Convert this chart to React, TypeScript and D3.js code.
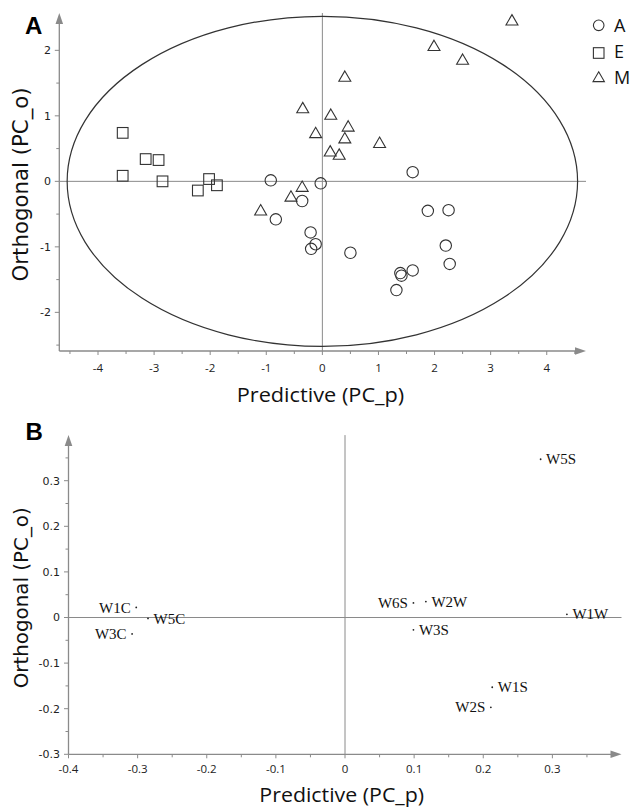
import React from "react";
import * as d3 from "d3";

// ---- Panel A data (OPLS-DA scores) ----
const groupA_x = [-0.92, -0.83, -0.36, -0.21, -0.2, -0.12, -0.03, 1.61, 0.5, 1.88, 2.25, 2.2, 2.27, 1.61, 1.39, 1.41, 1.32];
const groupA_y = [0.015, -0.58, -0.3, -0.78, -1.03, -0.96, -0.03, 0.14, -1.09, -0.45, -0.44, -0.98, -1.26, -1.36, -1.4, -1.44, -1.66];

const groupE_x = [-3.56, -3.56, -3.15, -2.92, -2.85, -2.22, -2.02, -1.88];
const groupE_y = [0.74, 0.085, 0.34, 0.325, 0.0, -0.14, 0.035, -0.06];

const groupM_x = [3.38, 1.99, 2.5, 0.4, -0.35, 0.15, -0.12, 0.46, 0.4, 1.02, 0.14, 0.3, -0.36, -0.56, -1.1];
const groupM_y = [2.44, 2.05, 1.84, 1.58, 1.1, 1.0, 0.72, 0.82, 0.64, 0.57, 0.44, 0.39, -0.1, -0.25, -0.46];

const legendLabels = ["A", "E", "M"];
const ellipseRadii = [4.55, 2.52];

const aXTicks = [-4, -3, -2, -1, 0, 1, 2, 3, 4];
const aYTicks = [-2, -1, 0, 1, 2];
const aXMinor = [-4.5, -3.5, -2.5, -1.5, -0.5, 0.5, 1.5, 2.5, 3.5, 4.5];
const aYMinor = [-2.5, -1.5, -0.5, 0.5, 1.5];

// ---- Panel B data (loadings) ----
const bLabels = ["W5S", "W6S", "W2W", "W1W", "W3S", "W1S", "W2S", "W1C", "W5C", "W3C"];
const bX = [0.283, 0.099, 0.117, 0.321, 0.099, 0.213, 0.211, -0.302, -0.285, -0.308];
const bY = [0.347, 0.032, 0.035, 0.007, -0.027, -0.153, -0.197, 0.022, -0.002, -0.036];
const bSide = ["r", "l", "r", "r", "r", "r", "l", "l", "r", "l"];

const bXTicks = [-0.4, -0.3, -0.2, -0.1, 0, 0.1, 0.2, 0.3];
const bYTicks = [-0.3, -0.2, -0.1, 0, 0.1, 0.2, 0.3];
const bXMinor = [-0.35, -0.25, -0.15, -0.05, 0.05, 0.15, 0.25, 0.35];
const bYMinor = [-0.25, -0.15, -0.05, 0.05, 0.15, 0.25, 0.35];

const AXIS = "#8a8a8a";
const MARK = "#333";
const SANS = "'Open Sans', 'Noto Sans', sans-serif";
const DEJA = "'DejaVu Sans', sans-serif";

function fmt(v: number) {
  if (v === 0) return "0";
  return String(v).replace(/^(-?)0\./, "$10.");
}

export default function App() {
  // Panel A scales
  const xA = d3.scaleLinear().domain([-4.69, 4.7]).range([59.3, 586]);
  const yA = d3.scaleLinear().domain([-2.59, 2.57]).range([351, 13]);
  // Panel B scales
  const xB = d3.scaleLinear().domain([-0.4, 0.4]).range([68.5, 621.5]);
  const yB = d3.scaleLinear().domain([-0.3, 0.4]).range([754.3, 435.1]);

  const tri = d3.symbol(d3.symbolTriangle, 62)()!;
  const triLegend = d3.symbol(d3.symbolTriangle, 56)()!;
  const sq = 10.7;

  const [ax0, ax1] = xA.domain();
  const [ay0, ay1] = yA.domain();
  const [bx0, bx1] = xB.domain();
  const [by0, by1] = yB.domain();

  const arrowRight = (x: number, y: number) => `M${x},${y}L${x - 11},${y - 3.8}L${x - 11},${y + 3.8}Z`;
  const arrowUp = (x: number, y: number) => `M${x},${y}L${x - 3.8},${y + 11}L${x + 3.8},${y + 11}Z`;

  return (
    <svg width={632} height={808} style={{ position: "absolute", left: 0, top: 0, background: "#fff" }}>
      <rect width={632} height={808} fill="#fff" />
      {/* ================= Panel A ================= */}
      <text x={25} y={34.3} fontFamily="'Liberation Sans', Arial, sans-serif" fontWeight="bold" fontSize={24} fill="#000">A</text>

      {/* zero lines */}
      <line x1={xA(ax0)} x2={xA(ax1)} y1={yA(0)} y2={yA(0)} stroke={AXIS} strokeWidth={1} />
      <line x1={xA(0)} x2={xA(0)} y1={yA(ay1)} y2={yA(ay0)} stroke={AXIS} strokeWidth={1} />

      {/* ellipse */}
      <ellipse cx={xA(0)} cy={yA(0)} rx={xA(ellipseRadii[0]) - xA(0)} ry={yA(0) - yA(ellipseRadii[1])} fill="none" stroke="#333" strokeWidth={1.2} />

      {/* axes */}
      <line x1={xA(ax0)} x2={xA(ax1) - 6} y1={yA(ay0)} y2={yA(ay0)} stroke={AXIS} strokeWidth={1.3} />
      <line x1={xA(ax0)} x2={xA(ax0)} y1={yA(ay0)} y2={yA(ay1) + 6} stroke={AXIS} strokeWidth={1.3} />
      <path d={arrowRight(xA(ax1), yA(ay0))} fill={AXIS} />
      <path d={arrowUp(xA(ax0), yA(ay1))} fill={AXIS} />

      {aXTicks.map((t) => (
        <g key={"axt" + t}>
          <line x1={xA(t)} x2={xA(t)} y1={yA(ay0)} y2={yA(ay0) + 4} stroke={AXIS} />
          <text x={xA(t)} y={372} textAnchor="middle" fontFamily={SANS} fontSize={11.5} fill="#222">{fmt(t)}</text>
        </g>
      ))}
      {aXMinor.map((t) => (
        <line key={"axm" + t} x1={xA(t)} x2={xA(t)} y1={yA(ay0)} y2={yA(ay0) + 3} stroke={AXIS} />
      ))}
      {aYTicks.map((t) => (
        <g key={"ayt" + t}>
          <line x1={xA(ax0) - 4.5} x2={xA(ax0)} y1={yA(t)} y2={yA(t)} stroke={AXIS} />
          <text x={51} y={yA(t)} dy="0.36em" textAnchor="end" fontFamily={DEJA} fontSize={11} fill="#222">{fmt(t)}</text>
        </g>
      ))}
      {aYMinor.map((t) => (
        <line key={"aym" + t} x1={xA(ax0) - 3} x2={xA(ax0)} y1={yA(t)} y2={yA(t)} stroke={AXIS} />
      ))}

      {/* markers */}
      {groupA_x.map((x, i) => (
        <circle key={"a" + i} cx={xA(x)} cy={yA(groupA_y[i])} r={5.7} fill="none" stroke={MARK} strokeWidth={1.1} />
      ))}
      {groupE_x.map((x, i) => (
        <rect key={"e" + i} x={xA(x) - sq / 2} y={yA(groupE_y[i]) - sq / 2} width={sq} height={sq} fill="none" stroke={MARK} strokeWidth={1.1} />
      ))}
      {groupM_x.map((x, i) => (
        <path key={"m" + i} d={tri} transform={`translate(${xA(x)},${yA(groupM_y[i])})`} fill="none" stroke={MARK} strokeWidth={1.1} />
      ))}

      {/* legend */}
      <circle cx={598.7} cy={25.3} r={5.3} fill="none" stroke={MARK} strokeWidth={1.1} />
      <rect x={598.7 - 5.3} y={53 - 5.3} width={10.6} height={10.6} fill="none" stroke={MARK} strokeWidth={1.1} />
      <path d={triLegend} transform="translate(598.7,78.3)" fill="none" stroke={MARK} strokeWidth={1.1} />
      {legendLabels.map((l, i) => (
        <text key={l} x={614} y={25.3 + i * 26.2 + 6.6} fontFamily={SANS} fontSize={18} fill="#111">{l}</text>
      ))}

      {/* titles */}
      <text x={320.5} y={402} textAnchor="middle" fontFamily={SANS} fontSize={20} textLength={167.6} lengthAdjust="spacingAndGlyphs" fill="#111">Predictive (PC_p)</text>
      <text transform="translate(28,184.4) rotate(-90)" textAnchor="middle" fontFamily={DEJA} fontSize={21} textLength={194} lengthAdjust="spacingAndGlyphs" fill="#111">Orthogonal (PC_o)</text>

      {/* ================= Panel B ================= */}
      <text x={25.5} y={440} fontFamily="'Liberation Sans', Arial, sans-serif" fontWeight="bold" fontSize={24} fill="#000">B</text>

      <line x1={xB(bx0)} x2={xB(bx1)} y1={yB(0)} y2={yB(0)} stroke={AXIS} strokeWidth={1} />
      <line x1={xB(0)} x2={xB(0)} y1={yB(by1)} y2={yB(by0)} stroke={AXIS} strokeWidth={1} />

      <line x1={xB(bx0)} x2={xB(bx1) - 6} y1={yB(by0)} y2={yB(by0)} stroke={AXIS} strokeWidth={1.3} />
      <line x1={xB(bx0)} x2={xB(bx0)} y1={yB(by0)} y2={yB(by1) + 6} stroke={AXIS} strokeWidth={1.3} />
      <path d={arrowRight(xB(bx1), yB(by0))} fill={AXIS} />
      <path d={arrowUp(xB(bx0), yB(by1))} fill={AXIS} />

      {bXTicks.map((t) => (
        <g key={"bxt" + t}>
          <line x1={xB(t)} x2={xB(t)} y1={yB(by0)} y2={yB(by0) + 4} stroke={AXIS} />
          <text x={xB(t)} y={773} textAnchor="middle" fontFamily={SANS} fontSize={11.5} fill="#222">{fmt(t)}</text>
        </g>
      ))}
      {bXMinor.map((t) => (
        <line key={"bxm" + t} x1={xB(t)} x2={xB(t)} y1={yB(by0)} y2={yB(by0) + 3} stroke={AXIS} />
      ))}
      {bYTicks.map((t) => (
        <g key={"byt" + t}>
          <line x1={xB(bx0) - 4.5} x2={xB(bx0)} y1={yB(t)} y2={yB(t)} stroke={AXIS} />
          <text x={60} y={yB(t)} dy="0.36em" textAnchor="end" fontFamily={DEJA} fontSize={11} fill="#222">{fmt(t)}</text>
        </g>
      ))}
      {bYMinor.map((t) => (
        <line key={"bym" + t} x1={xB(bx0) - 3} x2={xB(bx0)} y1={yB(t)} y2={yB(t)} stroke={AXIS} />
      ))}

      {bLabels.map((l, i) => {
        const px = xB(bX[i]);
        const py = yB(bY[i]);
        const right = bSide[i] === "r";
        return (
          <g key={l}>
            <circle cx={px} cy={py} r={0.9} fill="#222" />
            <text x={right ? px + 5.5 : px - 5.5} y={py} dy="0.34em" textAnchor={right ? "start" : "end"} fontFamily="'Liberation Serif', 'Times New Roman', serif" fontSize={15} fill="#111">{l}</text>
          </g>
        );
      })}

      <text x={341.7} y={802} textAnchor="middle" fontFamily={SANS} fontSize={20} textLength={164.7} lengthAdjust="spacingAndGlyphs" fill="#111">Predictive (PC_p)</text>
      <text transform="translate(28,597.8) rotate(-90)" textAnchor="middle" fontFamily={DEJA} fontSize={20} textLength={181} lengthAdjust="spacingAndGlyphs" fill="#111">Orthogonal (PC_o)</text>
    </svg>
  );
}
